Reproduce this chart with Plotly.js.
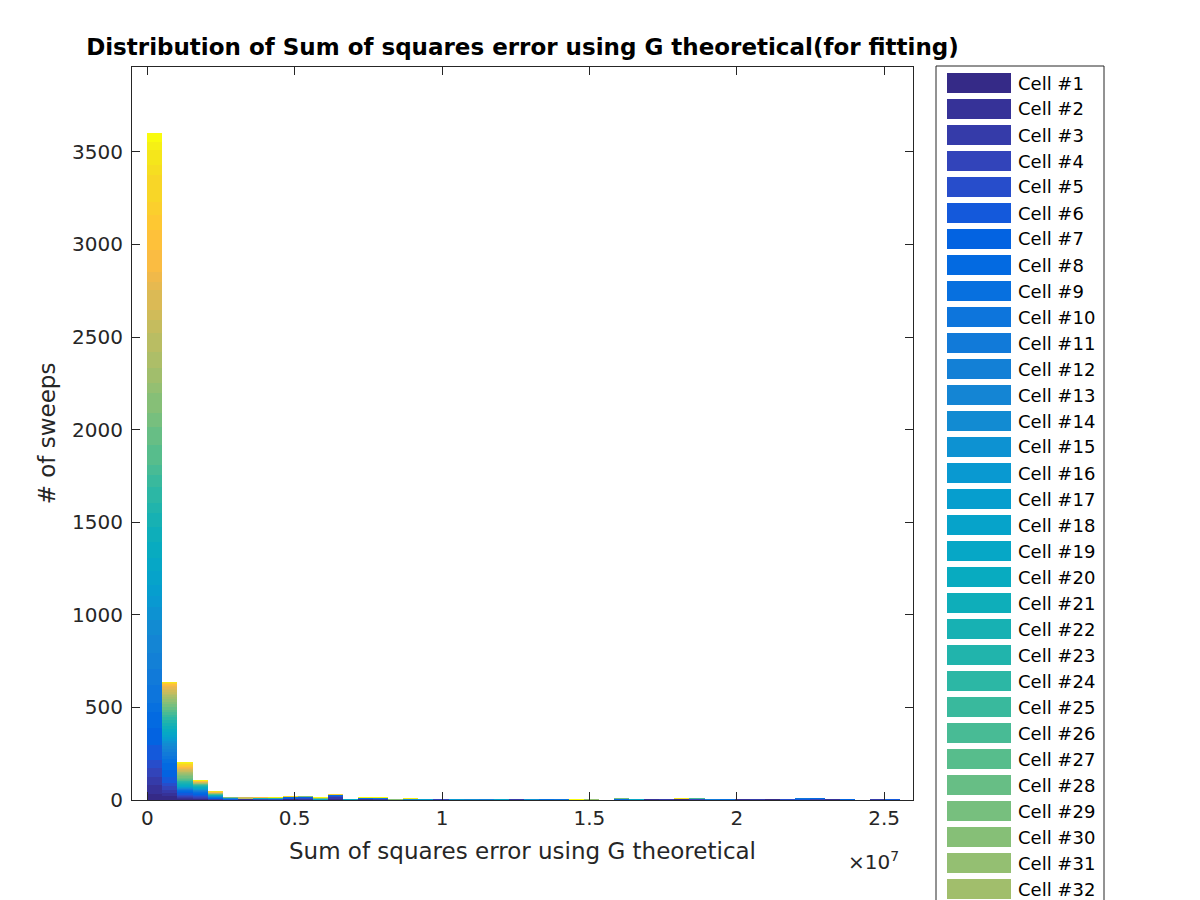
<!DOCTYPE html>
<html>
<head>
<meta charset="utf-8">
<script src="https://cdn.plot.ly/plotly-3.0.1.min.js"></script>
<style>
  html, body { margin: 0; padding: 0; background: #ffffff; }
  #chart { width: 1200px; height: 900px; }
</style>
</head>
<body>
<div id="chart"></div>
<script>
// ---------------- DATA ----------------
const nCells = 48;
const cellNames = Array.from({length: nCells}, (_, i) => 'Cell #' + (i + 1));

// histogram bins (Sum of squares error), 50 bins
const binStart = 0;
const binWidth = 511000;
const nBins = 50;

// counts per cell (Cell #1 .. Cell #48) for the first five bins
const bin1Counts = [35,45,44,48,44,81,90,88,49,95,88,87,95,83,70,60,59,73,73,85,80,78,54,86,65,54,108,97,76,108,54,81,86,103,70,54,108,43,54,119,108,81,70,146,54,81,43,48];
const bin2Counts = [20,18,16,20,18,32,40,36,20,20,19,17,16,16,12,10,10,12,14,16,16,18,16,14,14,14,14,14,14,14,13,13,10,9,9,9,9,8,5,5,4,4,3,2,1,1,1,1];
const bin3Counts = [5,5,4,8,7,7,7,6,5,2,2,2,2,2,2,2,2,2,4,5,5,5,5,4,4,4,6,6,7,6,6,5,5,4,4,4,4,4,4,4,3,4,4,4,4,4,3,3];
const bin4Counts = [3,3,3,6,6,6,5,5,4,3,3,3,2,2,2,2,2,2,3,3,3,3,3,2,2,2,2,1,1,1,1,1,1,1,1,2,1,1,1,1,1,1,1,1,1,1,2,1];
const bin5Counts = [1,1,1,1,2,2,2,2,1,1,1,1,1,1,1,1,1,1,1,1,1,1,1,1,1,1,1,1,1,1,1,1,1,1,0,1,0,1,0,1,1,1,1,1,1,1,2,1];

// sparse counts for the remaining bins: [bin index (0-based), cell number, count]
const tailCounts = [
  [5,3,2],[5,6,3],[5,9,3],[5,14,2],[5,20,2],[5,30,2],[5,38,2],[5,46,2],
  [6,2,3],[6,10,3],[6,25,2],[6,34,3],[6,36,3],
  [7,4,3],[7,12,3],[7,22,4],[7,27,3],[7,41,1],[7,48,1],
  [8,5,3],[8,15,3],[8,23,4],[8,28,3],[8,47,1],
  [9,1,3],[9,6,6],[9,8,8],[9,44,2],[9,48,2],
  [10,2,3],[10,5,6],[10,7,8],[10,30,2],[10,47,2],
  [11,18,3],[11,24,4],[11,29,4],[11,33,2],[11,48,1],
  [12,1,6],[12,3,8],[12,5,8],[12,8,5],[12,28,2],[12,43,2],[12,48,1],
  [13,19,4],
  [14,2,4],[14,4,4],[14,9,4],[14,46,1],[14,48,1],
  [15,3,4],[15,6,4],[15,11,4],[15,45,1],[15,48,1],
  [16,24,2],[16,30,2],
  [17,13,4],[17,18,3],[17,47,2],
  [18,17,4],
  [19,2,2],[19,4,2],
  [20,16,4],
  [21,14,3],[21,20,1],
  [22,12,4],
  [23,18,4],
  [24,3,4],
  [25,15,4],
  [26,9,4],
  [27,10,3],[27,48,1],
  [28,48,3],
  [29,36,3],[29,31,3],
  [30,48,2],
  [31,8,5],[31,14,3],[31,29,2],[31,48,1],
  [32,19,4],
  [33,2,4],
  [34,3,4],
  [35,1,4],[35,5,2],[35,23,2],[35,46,1],[35,48,1],
  [36,4,4],[36,13,3],[36,26,2],[36,47,1],
  [37,11,3],[37,48,1],
  [38,9,3],[38,47,1],
  [39,2,3],[39,48,1],
  [40,3,3],[40,48,1],
  [41,1,3],[41,47,1],
  [42,5,3],[42,48,1],
  [43,6,5],[43,10,4],[43,48,1],
  [44,4,5],[44,8,4],[44,47,1],
  [45,2,4],
  [46,7,4],
  [47,48,2],
  [48,3,3],[48,48,1],
  [49,6,3],[49,47,1]
];

// axis ticks
const xTickVals = [0, 5e6, 1e7, 1.5e7, 2e7, 2.5e7];
const xTickText = ['0', '0.5', '1', '1.5', '2', '2.5'];
const yTickVals = [0, 500, 1000, 1500, 2000, 2500, 3000, 3500];

// ---------------- COLORMAP (parula) ----------------
const parula64 = [
[0.2081,0.1663,0.5292],[0.2116,0.1898,0.5777],[0.2123,0.2138,0.6270],[0.2081,0.2386,0.6771],
[0.1959,0.2645,0.7279],[0.1707,0.2919,0.7792],[0.1253,0.3242,0.8303],[0.0591,0.3598,0.8683],
[0.0117,0.3875,0.8820],[0.0060,0.4086,0.8828],[0.0165,0.4266,0.8786],[0.0329,0.4430,0.8720],
[0.0498,0.4586,0.8641],[0.0629,0.4737,0.8554],[0.0723,0.4887,0.8467],[0.0779,0.5040,0.8384],
[0.0793,0.5200,0.8312],[0.0749,0.5375,0.8263],[0.0641,0.5570,0.8240],[0.0488,0.5772,0.8228],
[0.0343,0.5966,0.8199],[0.0265,0.6137,0.8135],[0.0239,0.6287,0.8038],[0.0231,0.6418,0.7913],
[0.0228,0.6535,0.7768],[0.0267,0.6642,0.7607],[0.0384,0.6743,0.7436],[0.0590,0.6838,0.7254],
[0.0843,0.6928,0.7062],[0.1133,0.7015,0.6859],[0.1453,0.7098,0.6646],[0.1801,0.7177,0.6424],
[0.2178,0.7250,0.6193],[0.2586,0.7317,0.5954],[0.3022,0.7376,0.5712],[0.3482,0.7424,0.5473],
[0.3953,0.7459,0.5244],[0.4420,0.7481,0.5033],[0.4871,0.7491,0.4840],[0.5300,0.7491,0.4661],
[0.5709,0.7485,0.4494],[0.6099,0.7473,0.4337],[0.6473,0.7456,0.4188],[0.6834,0.7435,0.4044],
[0.7184,0.7411,0.3905],[0.7525,0.7384,0.3768],[0.7858,0.7356,0.3633],[0.8185,0.7327,0.3498],
[0.8507,0.7299,0.3360],[0.8824,0.7274,0.3217],[0.9139,0.7258,0.3063],[0.9450,0.7261,0.2886],
[0.9739,0.7314,0.2666],[0.9938,0.7455,0.2403],[0.9990,0.7653,0.2164],[0.9955,0.7861,0.1967],
[0.9880,0.8066,0.1794],[0.9789,0.8271,0.1633],[0.9697,0.8481,0.1475],[0.9626,0.8705,0.1309],
[0.9589,0.8949,0.1132],[0.9598,0.9218,0.0948],[0.9661,0.9514,0.0755],[0.9763,0.9831,0.0538]
];
function parulaAt(t) {
  const p = t * 63;
  const i = Math.min(62, Math.floor(p));
  const f = p - i;
  const a = parula64[i], b = parula64[i + 1];
  const c = a.map((v, k) => Math.round(255 * (v + (b[k] - v) * f)));
  return 'rgb(' + c.join(',') + ')';
}
const cellColors = cellNames.map((_, i) => parulaAt(i / (nCells - 1)));

// ---------------- BUILD COUNT MATRIX ----------------
const binCenters = Array.from({length: nBins}, (_, k) => binStart + (k + 0.5) * binWidth);
const counts = cellNames.map(() => new Array(nBins).fill(0));
[bin1Counts, bin2Counts, bin3Counts, bin4Counts, bin5Counts].forEach((arr, b) => {
  arr.forEach((v, c) => { counts[c][b] = v; });
});
tailCounts.forEach(([b, c, v]) => { counts[c - 1][b] += v; });

const traces = cellNames.map((name, c) => ({
  type: 'bar',
  name: name,
  x: binCenters,
  y: counts[c],
  width: binWidth,
  marker: { color: cellColors[c], line: { width: 0 } },
  hoverinfo: 'name+y'
}));

// ---------------- LAYOUT ----------------
const W = 1200, H = 900;
const mL = 132, mR = 287, mT = 67, mB = 100;
const plotW = W - mL - mR, plotH = H - mT - mB;
const px2x = px => (px - mL) / plotW;
const px2y = py => (H - mB - py) / plotH;

const shapes = [];
const annotations = [];

// legend box (extends beyond the figure bottom as in the reference)
shapes.push({
  type: 'rect', xref: 'paper', yref: 'paper', layer: 'above',
  x0: px2x(936), x1: px2x(1104), y0: px2y(1100), y1: px2y(66),
  line: { color: '#262626', width: 1 }, fillcolor: '#ffffff'
});
cellNames.forEach((name, i) => {
  const top = 73 + 26 * i;
  if (top + 10 > H) return;
  shapes.push({
    type: 'rect', xref: 'paper', yref: 'paper', layer: 'above',
    x0: px2x(947), x1: px2x(1011), y0: px2y(top + 20), y1: px2y(top),
    line: { width: 0 }, fillcolor: cellColors[i]
  });
  annotations.push({
    xref: 'paper', yref: 'paper', x: px2x(1016), y: px2y(top + 10),
    xanchor: 'left', yanchor: 'middle', showarrow: false,
    text: name, font: { size: 18, color: '#000000' }
  });
});

// x10^7 exponent label
annotations.push({
  xref: 'paper', yref: 'paper', x: px2x(901), y: px2y(861),
  xanchor: 'right', yanchor: 'middle', showarrow: false,
  text: '×10<sup>7</sup>', font: { size: 20, color: '#262626' }
});

const axisCommon = {
  showline: true, linecolor: '#262626', linewidth: 1, mirror: 'ticks',
  ticks: 'inside', ticklen: 8, tickwidth: 1, tickcolor: '#262626',
  showgrid: false, zeroline: false, automargin: false,
  tickfont: { size: 20, color: '#262626' }
};

const layout = {
  width: W, height: H,
  margin: { l: mL, r: mR, t: mT, b: mB, pad: 0 },
  paper_bgcolor: '#ffffff', plot_bgcolor: '#ffffff',
  font: { family: 'DejaVu Sans, sans-serif', color: '#262626' },
  barmode: 'stack', bargap: 0,
  showlegend: false,
  title: {
    text: '<b>Distribution of Sum of squares error using G theoretical(for fitting)</b>',
    xref: 'container', x: 522.5 / W, xanchor: 'center',
    yref: 'container', y: 1 - 47 / H, yanchor: 'middle',
    font: { size: 23, color: '#000000', family: 'DejaVu Sans, sans-serif' }
  },
  xaxis: Object.assign({}, axisCommon, {
    range: [-520000, 25980000],
    tickmode: 'array', tickvals: xTickVals, ticktext: xTickText,
    title: { text: 'Sum of squares error using G theoretical', font: { size: 23, color: '#262626' }, standoff: 13 }
  }),
  yaxis: Object.assign({}, axisCommon, {
    range: [0, 3958],
    tickmode: 'array', tickvals: yTickVals, ticktext: yTickVals.map(String),
    ticklabelstandoff: 4,
    title: { text: '# of sweeps', font: { size: 23, color: '#262626' }, standoff: 10 }
  }),
  shapes: shapes,
  annotations: annotations
};

Plotly.newPlot('chart', traces, layout, { displayModeBar: false, staticPlot: true });
</script>
</body>
</html>
